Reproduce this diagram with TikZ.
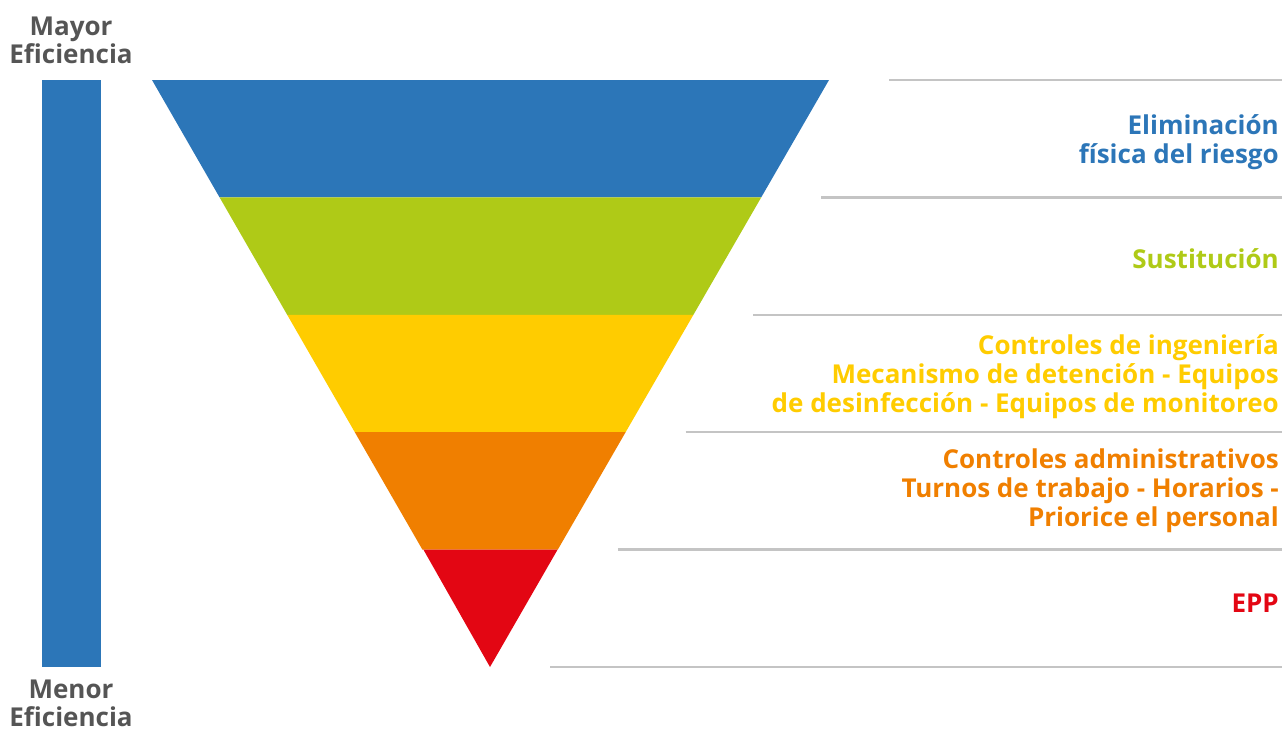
\documentclass[tikz,border=0pt]{standalone}
\usepackage{fontspec}
\setmainfont{Open Sans}[UprightFont=* Bold]
\definecolor{cblue}{HTML}{2C76B8}
\definecolor{cgreen}{HTML}{AFCA17}
\definecolor{cyellow}{HTML}{FFCC00}
\definecolor{corange}{HTML}{F07F00}
\definecolor{cred}{HTML}{E30613}
\definecolor{cgraytext}{HTML}{555555}
\definecolor{cline}{HTML}{C4C4C4}
\begin{document}
\begin{tikzpicture}[x=1pt,y=-1pt,
  lbl/.style={anchor=base east,align=right,inner sep=0pt,font=\fontsize{26}{29}\selectfont},
  side/.style={anchor=base,align=center,inner sep=0pt,text=cgraytext,font=\fontsize{26}{28}\selectfont},
  sep/.style={draw=cline,line width=2.5pt}]
\useasboundingbox (0,0) rectangle (1282,731);
% left bar
\fill[cblue] (42,80) rectangle (101,667);
\node[side] (mayor) at (71,63) {Mayor\\Eficiencia};
\node[side] (menor) at (71,726) {Menor\\Eficiencia};
% triangle bands
\coordinate (A) at (490,667);
\foreach \i/\c in {0/cblue,1/cgreen,2/cyellow,3/corange}{
  \pgfmathsetmacro{\ya}{80+117.4*\i}
  \pgfmathsetmacro{\yb}{80+117.4*(\i+1)}
  \pgfmathsetmacro{\xla}{152+(\ya-80)/587*338}
  \pgfmathsetmacro{\xlb}{152+(\yb-80)/587*338}
  \pgfmathsetmacro{\xra}{829-(\ya-80)/587*339}
  \pgfmathsetmacro{\xrb}{829-(\yb-80)/587*339}
  \fill[\c] (\xla,\ya) -- (\xra,\ya) -- (\xrb,\yb) -- (\xlb,\yb) -- cycle;
}
\fill[cred] (423.4,549.6) -- (557.6,549.6) -- (A) -- cycle;
% separator lines
\foreach \i in {0,...,5}{
  \pgfmathsetmacro{\y}{80+117.4*\i}
  \pgfmathsetmacro{\x}{889-(\y-80)/587*339}
  \draw[sep] (\x,\y) -- (1282,\y);
}
% labels
\node[lbl,text=cblue] (l1) at (1279,163) {Eliminación\\física del riesgo};
\node[lbl,text=cgreen] (l2) at (1279,268) {Sustitución};
\node[lbl,text=cyellow] (l3) at (1279,412) {Controles de ingeniería\\Mecanismo de detención - Equipos\\de desinfección - Equipos de monitoreo};
\node[lbl,text=corange] (l4) at (1279,526) {Controles administrativos\\Turnos de trabajo - Horarios -\\Priorice el personal};
\node[lbl,text=cred] (l5) at (1279,612) {EPP};
\end{tikzpicture}
\end{document}
